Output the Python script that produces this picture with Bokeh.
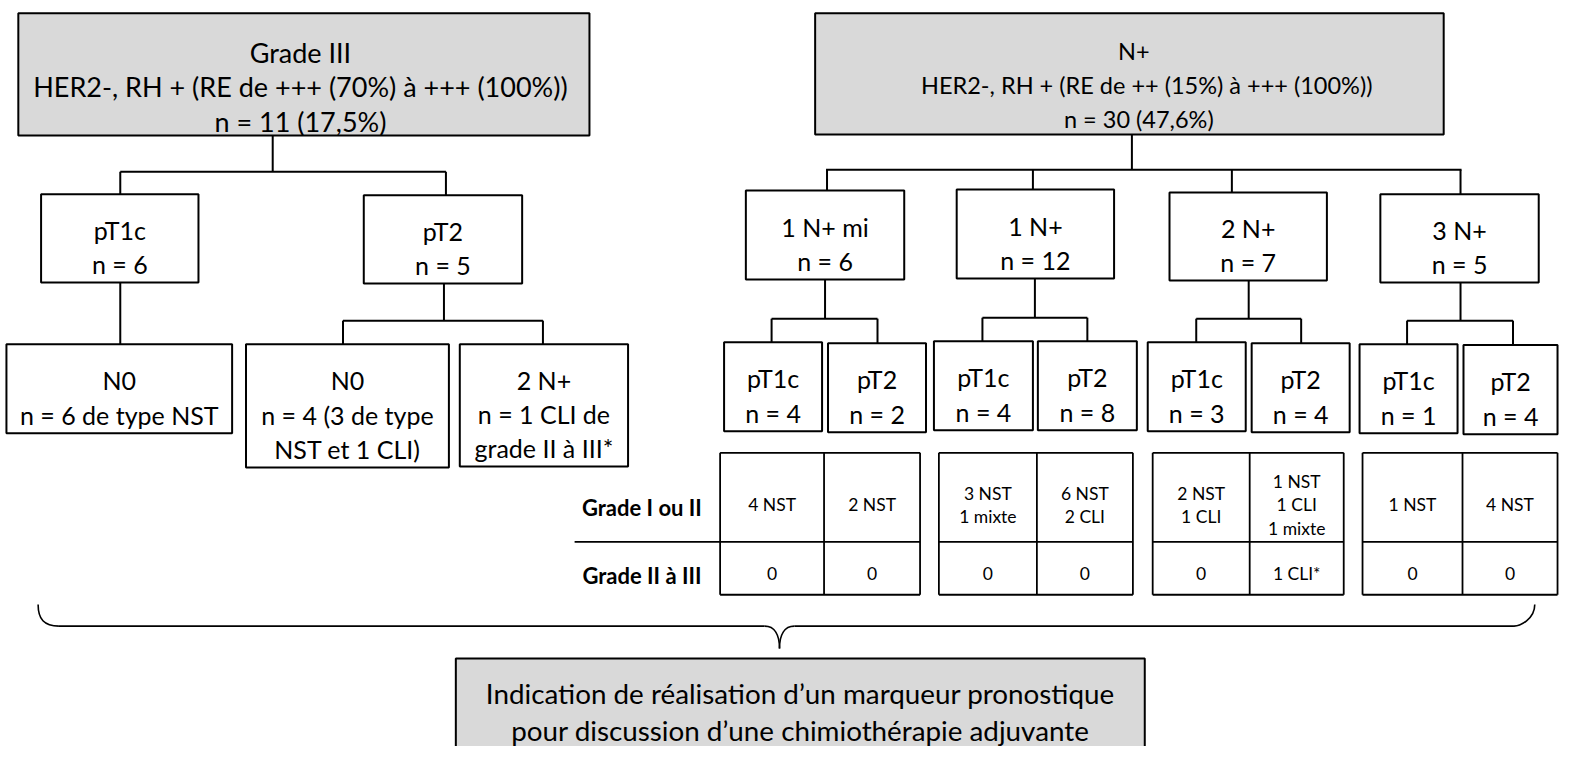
from bokeh.plotting import figure
from bokeh.models import Range1d
from bokeh.embed import file_html
from bokeh.resources import INLINE
from bokeh.core.properties import value

# ---------------- data (texts / values) ----------------
header_titles = ["Grade III", "N+"]
header_re = ["HER2-, RH + (RE de +++ (70%) à +++ (100%))",
             "HER2-, RH + (RE de ++ (15%) à +++ (100%))"]
header_n = [11, 30]
header_pct = ["17,5%", "47,6%"]

grade3_pt = ["pT1c", "pT2"]
grade3_pt_n = [6, 5]
grade3_leaf_title = ["N0", "N0", "2 N+"]
grade3_leaf_text = ["n = 6 de type NST",
                    "n = 4 (3 de type\nNST et 1 CLI)",
                    "n = 1 CLI de\ngrade II à III*"]

nplus_groups = ["1 N+ mi", "1 N+", "2 N+", "3 N+"]
nplus_group_n = [6, 12, 7, 5]
nplus_sub_pt = ["pT1c", "pT2", "pT1c", "pT2", "pT1c", "pT2", "pT1c", "pT2"]
nplus_sub_n = [4, 2, 4, 8, 3, 4, 1, 4]

grade_rows = ["Grade I ou II", "Grade II à III"]
grade_low = ["4 NST", "2 NST", "3 NST\n1 mixte", "6 NST\n2 CLI",
             "2 NST\n1 CLI", "1 NST\n1 CLI\n1 mixte", "1 NST", "4 NST"]
grade_high = ["0", "0", "0", "0", "0", "1 CLI*", "0", "0"]

conclusion = ["Indication de réalisation d’un marqueur pronostique",
              "pour discussion d’une chimiothérapie adjuvante"]

# ---------------- layout (reference pixel coordinates) ----------------
GRAY = "#d9d9d9"
FONT = "Lato"
MAIN_FS = 25
MAIN_LH = 35
CELL_FS = 17.5
CELL_LH = 24

p = figure(width=1560, height=746, x_range=Range1d(0, 1576), y_range=Range1d(762, 0),
           output_backend="svg", toolbar_location=None, min_border=0)
p.axis.visible = False
p.grid.visible = False
p.outline_line_color = None
p.background_fill_color = "white"

boxes = dict(left=[], right=[], top=[], bottom=[], fill=[])


def box(l, r, t, b, fill="white"):
    boxes["left"].append(l); boxes["right"].append(r)
    boxes["top"].append(t); boxes["bottom"].append(b)
    boxes["fill"].append(fill)


texts = {}


def lines_at(cx, top, bottom, lines, fs, lh, bold=False, shift=0.0):
    cap = fs * 0.72
    n = len(lines)
    mid = (top + bottom) / 2.0 + shift
    first = mid - (n - 1) * lh / 2.0 + cap / 2.0
    key = (fs, bold)
    d = texts.setdefault(key, dict(x=[], y=[], t=[]))
    xs = cx if isinstance(cx, (list, tuple)) else [cx] * n
    for i, ln in enumerate(lines):
        d["x"].append(xs[i]); d["y"].append(first + i * lh); d["t"].append(ln)


segs = dict(x0=[], y0=[], x1=[], y1=[])


def seg(x0, y0, x1, y1):
    segs["x0"].append(x0); segs["y0"].append(y0)
    segs["x1"].append(x1); segs["y1"].append(y1)


# headers
header_boxes = [(18, 595, 13, 138), (823, 1458, 13, 137)]
header_text_x = [(303, 303, 303), (1145, 1158, 1150)]
header_fs = [27, 23.5]
for (l, r, t, b), tx, fs, ttl, re_, n_, pc in zip(header_boxes, header_text_x, header_fs,
                                                 header_titles, header_re, header_n, header_pct):
    box(l, r, t, b, GRAY)
    lines_at(list(tx), t, b, [ttl, re_, f"n = {n_} ({pc})"], fs, 35, shift=3)

# left tree
seg(275, 138, 275, 175); seg(121, 175, 450, 175)
seg(121, 175, 121, 198); seg(450, 175, 450, 199)
pt_boxes = [(41, 200, 198, 288), (367, 527, 199, 289)]
for (l, r, t, b), ptxt, pn in zip(pt_boxes, grade3_pt, grade3_pt_n):
    box(l, r, t, b)
    lines_at((l + r) / 2, t, b, [ptxt, f"n = {pn}"], MAIN_FS, MAIN_LH)
seg(121, 288, 121, 351)
seg(448, 289, 448, 327); seg(346, 327, 548, 327)
seg(346, 327, 346, 351); seg(548, 327, 548, 351)
leaf_boxes = [(6, 234, 351, 442), (248, 453, 351, 477), (464, 634, 351, 476)]
for (l, r, t, b), ttl, txt in zip(leaf_boxes, grade3_leaf_title, grade3_leaf_text):
    box(l, r, t, b)
    lines_at((l + r) / 2, t, b, [ttl] + txt.split("\n"), MAIN_FS, MAIN_LH)

# right tree
seg(1143, 137, 1143, 173); seg(834, 173, 1476, 173)
group_boxes = [(753, 913, 194, 285), (966, 1125, 193, 284), (1181, 1340, 196, 286), (1394, 1554, 198, 288)]
group_in_x = [835, 1043, 1244, 1475]
group_fork = [(833, 325, 779, 886), (1045, 324, 992, 1098), (1261, 325, 1208, 1314), (1475, 327, 1421, 1528)]
sub_boxes = [(731, 830, 349, 440), (836, 935, 350, 441), (943, 1043, 348, 439), (1048, 1148, 348, 439),
             (1159, 1258, 349, 440), (1264, 1363, 350, 441), (1373, 1472, 351, 442), (1478, 1573, 352, 443)]
for i, ((l, r, t, b), g, gn) in enumerate(zip(group_boxes, nplus_groups, nplus_group_n)):
    box(l, r, t, b)
    seg(group_in_x[i], 173, group_in_x[i], t)
    lines_at((l + r) / 2, t, b, [g, f"n = {gn}"], MAIN_FS, MAIN_LH)
    fx, fy, fl, fr = group_fork[i]
    seg(fx, b, fx, fy); seg(fl, fy, fr, fy)
    seg(fl, fy, fl, sub_boxes[2 * i][2]); seg(fr, fy, fr, sub_boxes[2 * i + 1][2])
for (l, r, t, b), ptxt, pn in zip(sub_boxes, nplus_sub_pt, nplus_sub_n):
    box(l, r, t, b)
    lines_at((l + r) / 2, t, b, [ptxt, f"n = {pn}"], MAIN_FS, MAIN_LH)

# table
T_TOP, T_MID, T_BOT = 462, 553, 607
table_x = [(727, 832, 929), (948, 1047, 1144), (1164, 1262, 1357), (1376, 1477, 1573)]
tseg = dict(x0=[], y0=[], x1=[], y1=[])


def tline(x0, y0, x1, y1):
    tseg["x0"].append(x0); tseg["y0"].append(y0)
    tseg["x1"].append(x1); tseg["y1"].append(y1)


tline(580, T_MID, 727, T_MID)
for gi, (a, m, c) in enumerate(table_x):
    tline(a, T_TOP, c, T_TOP); tline(a, T_BOT, c, T_BOT)
    tline(a, T_MID, c, T_MID)
    tline(a, T_TOP, a, T_BOT); tline(m, T_TOP, m, T_BOT); tline(c, T_TOP, c, T_BOT)
    for k, (x0, x1) in enumerate([(a, m), (m, c)]):
        idx = 2 * gi + k
        lines_at((x0 + x1) / 2, T_TOP, T_MID, grade_low[idx].split("\n"), CELL_FS, CELL_LH, shift=1.5)
        lines_at((x0 + x1) / 2, T_MID, T_BOT, grade_high[idx].split("\n"), CELL_FS, CELL_LH, shift=-1)
lines_at(648, T_TOP, T_MID, [grade_rows[0]], 22, 24, bold=True, shift=2)
lines_at(648, T_MID, T_BOT, [grade_rows[1]], 22, 24, bold=True, shift=-1)

# conclusion box
box(460, 1156, 672, 764, GRAY)
lines_at(808, 672, 762, conclusion, 27.8, 38)

# draw
p.quad(left=boxes["left"], right=boxes["right"], top=boxes["top"], bottom=boxes["bottom"],
       fill_color=boxes["fill"], line_color="black", line_width=2)
p.segment(x0=segs["x0"], y0=segs["y0"], x1=segs["x1"], y1=segs["y1"], line_color="black", line_width=2)
p.segment(x0=tseg["x0"], y0=tseg["y0"], x1=tseg["x1"], y1=tseg["y1"], line_color="black", line_width=1.8)

# brace
BY_END, BY, BTIP, BXC = 617, 639, 662, 787
p.bezier(x0=[38, 1550], y0=[BY_END, BY_END], x1=[59, 1529], y1=[BY, BY],
         cx0=[38, 1550], cy0=[632, 632], cx1=[44, 1535], cy1=[BY, BY], line_color="black", line_width=1.6)
p.segment(x0=[59, 802], y0=[BY, BY], x1=[772, 1529], y1=[BY, BY], line_color="black", line_width=1.6)
p.bezier(x0=[772, 802], y0=[BY, BY], x1=[BXC, BXC], y1=[BTIP, BTIP],
         cx0=[782, 792], cy0=[BY, BY], cx1=[BXC, BXC], cy1=[648, 648], line_color="black", line_width=1.6)

for (fs, bold), d in texts.items():
    p.text(x=d["x"], y=d["y"], text=d["t"], text_align="center", text_baseline="alphabetic",
           text_font=value(FONT), text_font_size=value(f"{fs}px"),
           text_font_style="bold" if bold else "normal", text_color="black")

open("out.html", "w").write(file_html(p, INLINE))
